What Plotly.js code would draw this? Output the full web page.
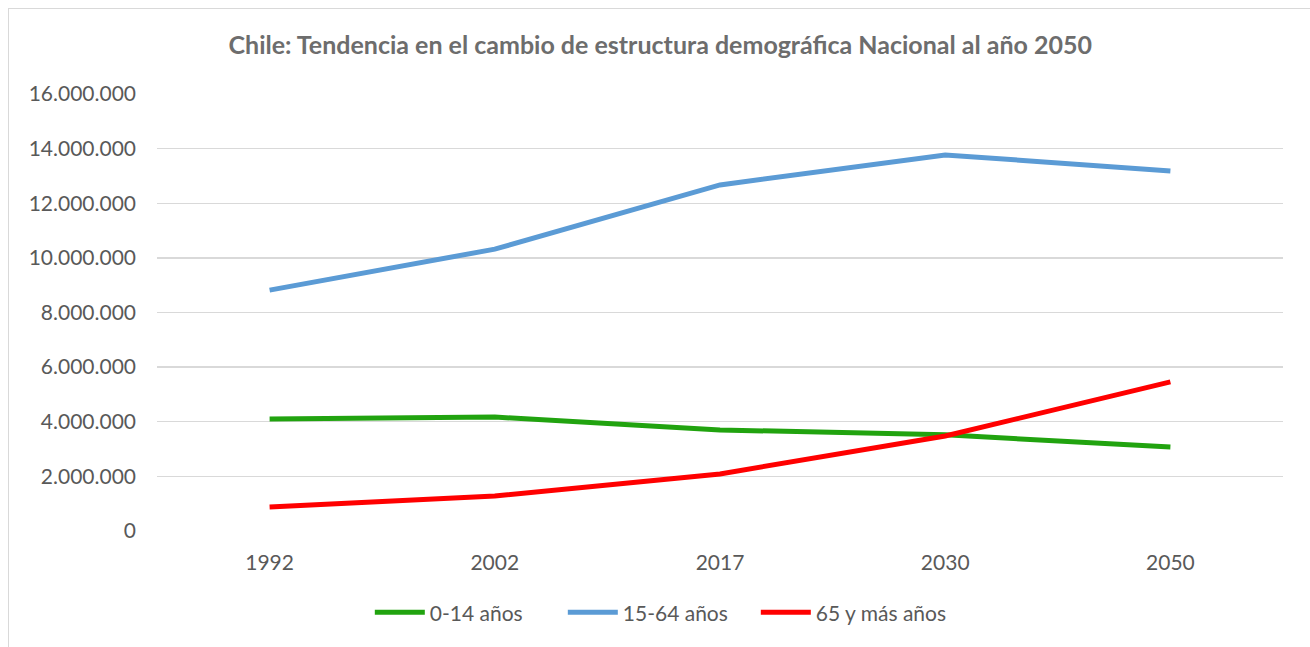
<!DOCTYPE html>
<html>
<head>
<meta charset="utf-8">
<script src="https://cdn.plot.ly/plotly-3.0.1.min.js"></script>
<style>
html,body{margin:0;padding:0;background:#fff;}
#frame{position:absolute;left:8px;top:8px;width:1320px;height:660px;border:1px solid #d9d9d9;box-sizing:border-box;pointer-events:none;z-index:5;}
#chart{position:absolute;left:0;top:0;width:1310px;height:647px;}
</style>
</head>
<body>
<div id="chart"></div>
<div id="frame"></div>
<script>
const years = ["1992", "2002", "2017", "2030", "2050"];
const age0to14 = [4100000, 4170000, 3700000, 3520000, 3080000];
const age15to64 = [8820000, 10320000, 12670000, 13770000, 13180000];
const age65plus = [880000, 1280000, 2090000, 3480000, 5460000];
const seriesNames = ["0-14 años", "15-64 años", "65 y más años"];
const colors = ["#21a30f", "#5b9bd5", "#ff0000"];

const data = [age0to14, age15to64, age65plus].map((v, i) => ({
  type: "scatter", mode: "lines", x: years, y: v, name: seriesNames[i],
  line: {color: colors[i], width: 5}, hoverinfo: "x+y+name"
}));

const layout = {
  width: 1310, height: 647,
  margin: {l: 157, r: 27, t: 94, b: 116},
  paper_bgcolor: "#ffffff", plot_bgcolor: "#ffffff",
  separators: ",.",
  font: {family: "Lato, 'Liberation Sans', sans-serif", color: "#595959", size: 21},
  title: {text: "<b>Chile: Tendencia en el cambio de estructura demográfica Nacional al año 2050</b>",
          x: 0.504, xanchor: "center", y: 0.93, yanchor: "middle",
          font: {family: "Lato, 'Liberation Sans', sans-serif", size: 25, color: "#6d6d6d"}},
  xaxis: {type: "category", range: [-0.5, 4.5], showgrid: false, zeroline: false,
          showline: false, ticks: "", tickfont: {size: 21, color: "#595959"}, ticklabelstandoff: 17},
  yaxis: {range: [0, 16000000], dtick: 2000000, tickformat: ",d", showgrid: true,
          gridcolor: "#d9d9d9", gridwidth: 1.3, zeroline: false, showline: false, ticks: "",
          tickfont: {size: 21, color: "#595959"}, ticklabelstandoff: 20},
  showlegend: true,
  legend: {orientation: "h", x: 0.189, xanchor: "left", y: -0.187, yanchor: "middle",
           font: {size: 21, color: "#595959"}, itemwidth: 50, entrywidth: 128, entrywidthmode: "pixels",
           traceorder: "normal"}
};

Plotly.newPlot("chart", data, layout, {displayModeBar: false, staticPlot: true});
</script>
</body>
</html>
